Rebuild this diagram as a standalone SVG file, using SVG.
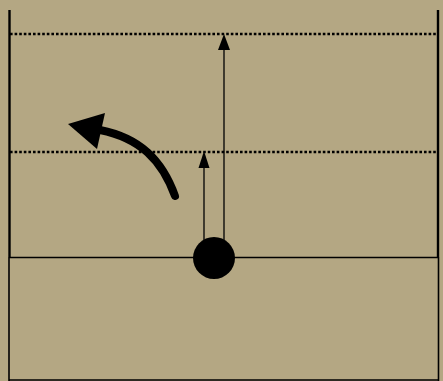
<svg xmlns="http://www.w3.org/2000/svg" width="443" height="381" viewBox="0 0 443 381">
<style>
.court{stroke:#000;fill:none}
.dot{stroke:#000;stroke-width:2.5;stroke-dasharray:2.6 2;fill:none}
.thin{stroke:#000;stroke-width:1.3;fill:none}
</style>
<rect width="443" height="381" fill="#b4a783"/>
<g id="court">
<line class="court" x1="9.5" y1="10" x2="9.5" y2="257" stroke-width="2.4"/>
<line class="court" x1="438" y1="10" x2="438" y2="257" stroke-width="2.4"/>
<line class="court" x1="9" y1="257" x2="9" y2="381" stroke-width="1.6"/>
<line class="court" x1="438.5" y1="257" x2="438.5" y2="381" stroke-width="1.6"/>
<line class="court" x1="9" y1="257.5" x2="439" y2="257.5" stroke-width="1.6"/>
<line class="court" x1="9" y1="380" x2="439" y2="380" stroke-width="1.6"/>
<line class="dot" x1="10" y1="34" x2="436" y2="34"/>
<line class="dot" x1="10" y1="152" x2="436" y2="152"/>
</g>
<g id="ball"><circle cx="214" cy="258" r="21" fill="#000"/></g>
<g id="connectors">
<line class="thin" x1="224" y1="240" x2="224" y2="48"/>
<polygon points="224,34 218,50 230,50" fill="#000"/>
<line class="thin" x1="204" y1="240" x2="204" y2="166"/>
<polygon points="204,151 198.5,168 209.5,168" fill="#000"/>
<path d="M175,196 C162,160 140,138 100,130" stroke="#000" stroke-width="8" stroke-linecap="round" fill="none"/>
<polygon points="68,124 105,113 97,149" fill="#000"/>
</g>
</svg>
